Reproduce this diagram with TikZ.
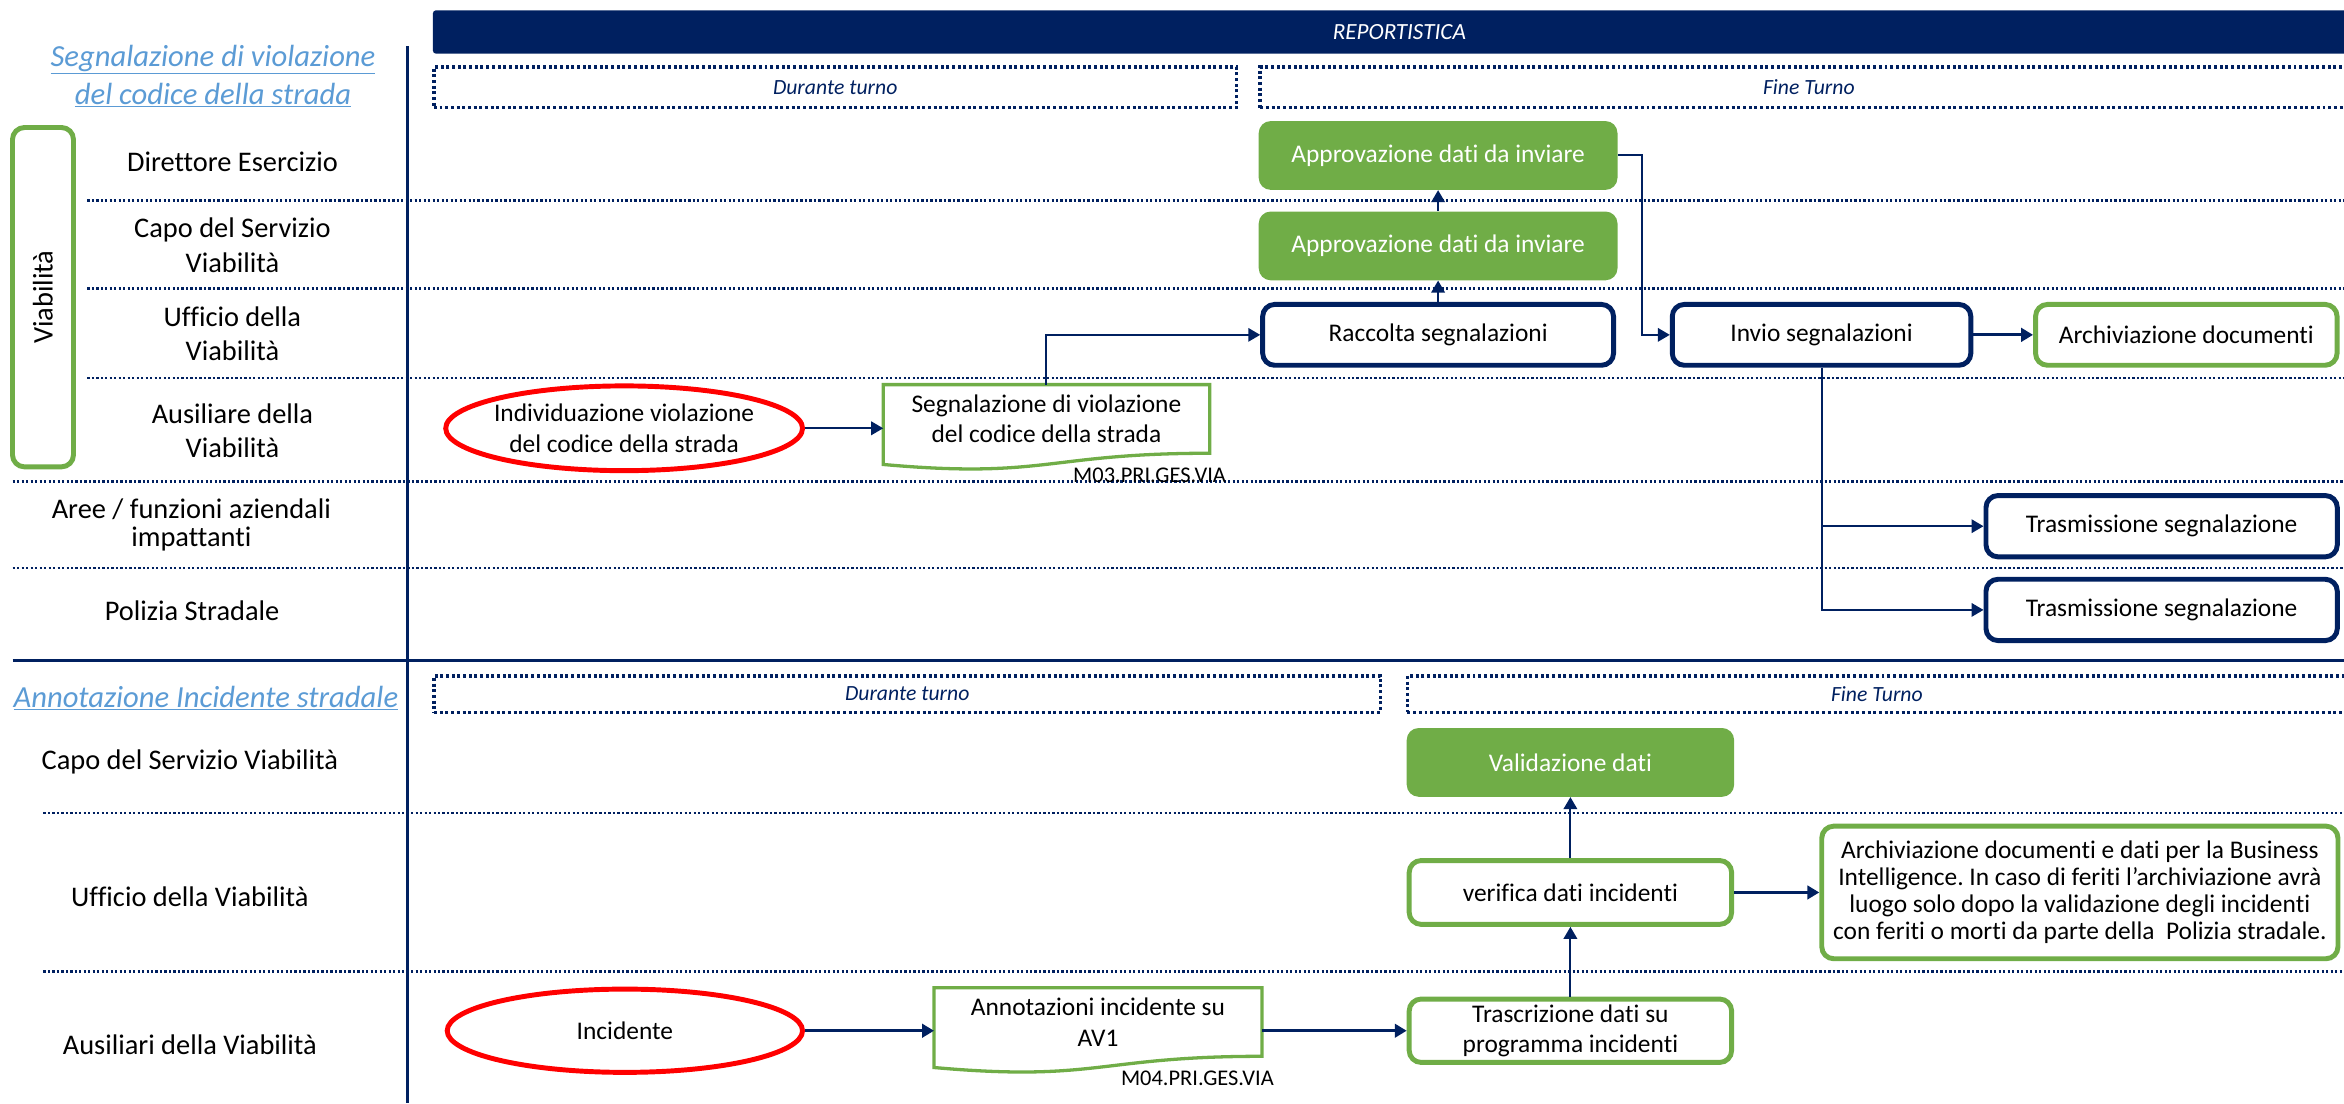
\documentclass[tikz,border=0pt]{standalone}
\usepackage{fontspec}
\setmainfont{Carlito}[Ligatures=NoCommon]
\usetikzlibrary{shapes.geometric,arrows.meta,calc}
\definecolor{navy}{HTML}{002060}
\definecolor{vgreen}{HTML}{70AD47}
\definecolor{ttlblue}{HTML}{5B9BD5}
\tikzset{
  lane/.style={navy, line width=1.6pt, dash pattern=on 1.5pt off 1.5pt},
  phasebox/.style={draw=navy, line width=2.4pt, dash pattern=on 2pt off 1.8pt, inner sep=0pt,
     font=\fontsize{14.5}{17}\selectfont\itshape, text=navy},
  lbl/.style={font=\fontsize{19}{23}\selectfont, align=center, text=black, inner sep=0pt},
  ttl/.style={font=\fontsize{20.5}{25.6}\selectfont\itshape, text=ttlblue, align=center, inner sep=0pt},
  box/.style={rounded corners=8pt, font=\fontsize{17}{20.5}\selectfont, align=center, inner sep=2pt},
  navybox/.style={box, draw=navy, line width=3.3pt, fill=white},
  gbox/.style={box, draw=vgreen, line width=3.3pt, fill=white},
  gfill/.style={box, fill=vgreen, text=white},
  evt/.style={ellipse, draw=red, line width=3.3pt, font=\fontsize{17}{20.5}\selectfont, align=center,
     inner xsep=-40pt, inner ysep=-6pt},
  docbox/.style={font=\fontsize{17}{20.5}\selectfont, align=center, inner sep=0pt},
  docline/.style={draw=vgreen, line width=2.2pt, fill=white},
  code/.style={font=\fontsize{15}{17}\selectfont, inner sep=0pt},
  conn/.style={navy, line width=1.3pt, -{Triangle[length=8pt,width=9pt]}},
  connthick/.style={navy, line width=2pt, -{Triangle[length=8pt,width=9pt]}},
}
\begin{document}
\frenchspacing
\begin{tikzpicture}[x=1pt,y=-1pt]
\useasboundingbox (0,0) rectangle (1568,738);

% ---------- header ----------
\node[fill=navy, rounded corners=2pt, minimum width=1293pt, minimum height=29pt, inner sep=0pt,
      anchor=north west, text=white, font=\fontsize{15.5}{18}\selectfont\itshape] (rep) at (289.4,6.7) {REPORTISTICA};

% ---------- section 1 ----------
\node[ttl] (t1) at (142.5,51) {\underline{Segnalazione di violazione}\\\underline{del codice della strada}};
\node[phasebox, minimum width=537pt, minimum height=27pt] (d1) at (558.7,58.5) {Durante turno};
\node[phasebox, minimum width=734pt, minimum height=27pt] (f1) at (1210,58.5) {Fine Turno};

% lanes
\draw[lane] (58.4,134) -- (1568,134);
\draw[lane] (58.4,193) -- (1568,193);
\draw[lane] (58.4,253) -- (1568,253);
\draw[lane] (8.5,322) -- (1568,322);
\draw[lane] (8.5,380) -- (1568,380);
\draw[navy, line width=2.2pt] (8.4,442) -- (1568,442);
\draw[navy, line width=2pt] (272.5,31) -- (272.5,738);

\node[draw=vgreen, line width=3.3pt, rounded corners=8pt, rotate=90, minimum width=227pt, minimum height=40.8pt,
      inner sep=0pt, font=\fontsize{19}{23}\selectfont] (viab) at (28.75,198.8) {Viabilità};

\node[lbl] (l1) at (155.5,108.5) {Direttore Esercizio};
\node[lbl] (l2) at (155.5,164) {Capo del Servizio\\Viabilità};
\node[lbl] (l3) at (155.5,223.3) {Ufficio della\\Viabilità};
\node[lbl] (l4) at (155.5,288) {Ausiliare della\\Viabilità};
\node[lbl, font=\fontsize{19}{19}\selectfont] (l5) at (128,351) {Aree / funzioni aziendali\\impattanti};
\node[lbl] (l6) at (128.5,408.5) {Polizia Stradale};

% nodes
\node[gfill, minimum width=240pt, minimum height=46pt] (ap1) at (962,104) {Approvazione dati da inviare};
\node[gfill, minimum width=240pt, minimum height=46pt] (ap2) at (962,164.5) {Approvazione dati da inviare};
\node[navybox, minimum width=234.7pt, minimum height=40.7pt] (racc) at (962,224) {Raccolta segnalazioni};
\node[navybox, minimum width=199.7pt, minimum height=40.7pt] (invio) at (1218.5,224) {Invio segnalazioni};
\node[gbox, minimum width=201.7pt, minimum height=40.7pt] (arch1) at (1462.5,224) {Archiviazione documenti};
\node[navybox, minimum width=235pt, minimum height=41pt] (tr1) at (1446,352) {Trasmissione segnalazione};
\node[navybox, minimum width=235pt, minimum height=41pt] (tr2) at (1446,408) {Trasmissione segnalazione};
\node[evt, minimum width=238.7pt, minimum height=56.7pt] (ell1) at (417.5,286.5) {Individuazione violazione\\del codice della strada};

\node[docbox, minimum width=218pt, minimum height=45.5pt] (doc1) at (700,280.25) {};
\path[docline] (doc1.north west) -- (doc1.north east) -- (doc1.south east)
   .. controls (doc1.south) and ([yshift=-17.3pt]doc1.south) .. ([yshift=-7.5pt]doc1.south west) -- cycle;
\node[docbox] (doc1t) at (doc1.center) {Segnalazione di violazione\\del codice della strada};
\node[code] (m03) at (769,318) {M03.PRI.GES.VIA};

% connectors
\draw[conn] (ell1.east) -- (ell1.east -| doc1.west);
\draw[conn] (doc1.north) |- (racc.west);
\draw[conn] (racc.north) -- (ap2.south);
\draw[conn] (ap2.north) -- (ap1.south);
\coordinate (k1) at (1098.7,104);
\draw[conn] (ap1.east) -- (k1) |- (invio.west);
\draw[connthick] (invio.east) -- (arch1.west);
\draw[conn] (invio.south) |- (tr1.west);
\draw[conn] (invio.south) |- (tr2.west);

% ---------- section 2 ----------
\node[ttl] (t2) at (137.7,467) {\underline{Annotazione Incidente stradale}};
\node[phasebox, minimum width=633pt, minimum height=24.5pt] (d2) at (606.9,464.3) {Durante turno};
\node[phasebox, minimum width=628pt, minimum height=24.5pt] (f2) at (1255.5,464.3) {Fine Turno};

\draw[lane] (29,544) -- (1568,544);
\draw[lane] (29,650) -- (1568,650);

\node[lbl] (m1) at (127,510) {Capo del Servizio Viabilità};
\node[lbl] (m2) at (127,600) {Ufficio della Viabilità};
\node[lbl] (m3) at (127,699) {Ausiliari della Viabilità};

\node[gfill, minimum width=219pt, minimum height=46pt] (val) at (1050.5,510) {Validazione dati};
\node[gbox, minimum width=215.7pt, minimum height=42.7pt] (ver) at (1050.5,597) {verifica dati incidenti};
\node[gbox, minimum width=345.3pt, minimum height=88.7pt, font=\fontsize{17}{18}\selectfont, inner sep=0pt] (arch2) at (1391.3,597)
  {Archiviazione documenti e dati per la Business\\Intelligence. In caso di feriti l’archiviazione avrà\\luogo solo dopo la validazione degli incidenti\\con feriti o morti da parte della\ \ Polizia stradale.};
\node[evt, minimum width=237.7pt, minimum height=55.7pt] (ell2) at (418,689.5) {Incidente};

\node[docbox, minimum width=219pt, minimum height=45.4pt] (doc2) at (734.5,683.7) {};
\path[docline] (doc2.north west) -- (doc2.north east) -- (doc2.south east)
   .. controls (doc2.south) and ([yshift=-17.3pt]doc2.south) .. ([yshift=-7.5pt]doc2.south west) -- cycle;
\node[docbox] (doc2t) at (doc2.center) {Annotazioni incidente su\\AV1};
\node[code] (m04) at (801,721) {M04.PRI.GES.VIA};

\node[gbox, minimum width=215.7pt, minimum height=42.4pt] (trasc) at (1050.5,689.5) {Trascrizione dati su\\programma incidenti};

\draw[connthick] (ell2.east) -- (ell2.east -| doc2.west);
\draw[connthick] (doc2.east |- trasc.west) -- (trasc.west);
\draw[conn] (trasc.north) -- (ver.south);
\draw[conn] (ver.north) -- (val.south);
\draw[connthick] (ver.east) -- (arch2.west);
\end{tikzpicture}
\end{document}
